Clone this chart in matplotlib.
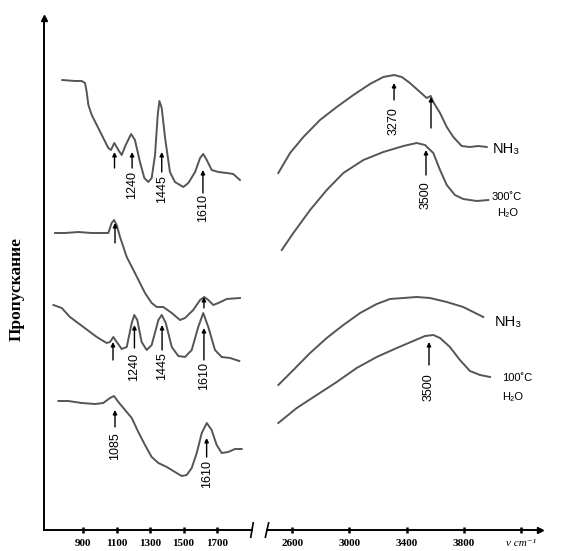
import matplotlib
matplotlib.use('Agg')
import matplotlib.pyplot as plt

# IR transmission spectra, wavenumber (cm-1) vs transmittance (arb. units, stacked)
# low-frequency region
wn_a = [776, 852, 892, 912, 922, 932, 952, 982, 1021, 1051, 1067, 1087, 1111, 1131, 1155, 1187,
        1210, 1240, 1266, 1290, 1310, 1330, 1346, 1356, 1370, 1390, 1419, 1449, 1499, 1529, 1569,
        1599, 1618, 1639, 1668, 1708, 1758, 1797, 1837]
t_a = [450, 449, 449, 447, 438, 425, 415, 405, 392, 382, 380, 387, 380, 375, 385, 396,
       390, 368, 352, 348, 352, 375, 415, 429, 422, 392, 358, 348, 343, 347, 358,
       372, 376, 370, 360, 358, 357, 356, 350]

wn_b = [733, 792, 872, 952, 1051, 1071, 1085, 1101, 1121, 1161, 1210, 1270, 1310, 1340, 1379,
        1430, 1479, 1509, 1558, 1599, 1624, 1648, 1678, 1708, 1758, 1837]
t_b = [297, 297, 298, 297, 297, 307, 310, 305, 293, 273, 257, 237, 227, 223, 223,
       217, 210, 212, 220, 230, 233, 230, 225, 227, 231, 232]

wn_c = [723, 773, 822, 902, 982, 1041, 1061, 1081, 1101, 1131, 1161, 1191, 1206, 1224, 1250,
        1280, 1310, 1350, 1370, 1394, 1430, 1469, 1509, 1549, 1588, 1618, 1648, 1688, 1728,
        1778, 1833]
t_c = [225, 222, 213, 203, 193, 187, 188, 193, 188, 181, 183, 207, 215, 210, 188,
       180, 185, 210, 215, 207, 183, 174, 173, 180, 203, 217, 203, 180, 173,
       172, 169]

wn_d = [753, 812, 892, 972, 1021, 1061, 1085, 1111, 1151, 1191, 1230, 1270, 1310, 1350, 1400,
        1449, 1489, 1519, 1549, 1579, 1609, 1639, 1668, 1698, 1728, 1767, 1807, 1847]
t_d = [129, 129, 127, 126, 127, 132, 134, 128, 120, 112, 98, 85, 73, 67, 63,
       58, 54, 55, 62, 77, 97, 107, 100, 85, 77, 78, 81, 81]

# high-frequency region
wn_e = [2504, 2586, 2679, 2795, 2912, 3028, 3144, 3237, 3312, 3366, 3423, 3493, 3540, 3568,
        3586, 3633, 3680, 3726, 3784, 3842, 3900, 3959]
t_e = [357, 377, 393, 410, 423, 435, 446, 453, 455, 453, 447, 438, 432, 434,
       428, 417, 403, 393, 384, 383, 384, 383]

wn_f = [2528, 2609, 2726, 2842, 2958, 3098, 3237, 3377, 3470, 3528, 3586, 3633, 3680, 3737,
        3795, 3889, 3970]
t_f = [280, 297, 320, 340, 357, 370, 378, 384, 387, 385, 377, 360, 345, 335,
       331, 329, 330]

wn_g = [2504, 2609, 2726, 2842, 2958, 3075, 3191, 3284, 3377, 3470, 3563, 3680, 3795, 3865, 3935]
t_g = [145, 160, 177, 192, 205, 217, 226, 231, 232, 233, 232, 228, 223, 218, 213]

wn_h = [2504, 2633, 2772, 2912, 3051, 3191, 3331, 3446, 3528, 3586, 3633, 3702, 3772, 3842,
        3912, 3982]
t_h = [107, 122, 135, 148, 162, 173, 182, 189, 194, 195, 192, 183, 170, 159, 155, 153]

ticks_low = [900, 1100, 1300, 1500, 1700]
ticks_high = [2600, 3000, 3400, 3800, 4200]
tick_labels_high = ['2600', '3000', '3400', '3800', 'ν cm⁻¹']

# peak marks: (wavenumber, arrow head, arrow tail, label, label centre)
marks_low = [
    (1088, 378, 362, '', None), (1193, 378, 362, '1240', 345), (1370, 378, 358, '1445', 341),
    (1616, 360, 337, '1610', 322),
    (1091, 307, 287, '', None), (1622, 233, 222, '', None),
    (1079, 188, 170, '', None), (1207, 205, 182, '1240', 163), (1372, 205, 180, '1445', 164),
    (1622, 202, 170, '1610', 154),
    (1091, 120, 103, '1085', 84), (1638, 92, 73, '1610', 56),
]
marks_high = [
    (3312, 447, 430, '3270', 409), (3570, 433, 402, '', None),
    (3535, 380, 355, '3500', 335), (3556, 188, 165, '3500', 143),
]

line_color = '#555555'
serif = ['Liberation Serif', 'DejaVu Serif']
sans = ['Liberation Sans', 'DejaVu Sans']

fig = plt.figure(figsize=(5.61, 5.51), dpi=100)
ax1 = fig.add_axes([44 / 561, 21 / 551, 208 / 561, 512 / 551])
ax2 = fig.add_axes([267 / 561, 21 / 551, 273 / 561, 512 / 551])

ax1.set_xlim(667, 1909)
ax2.set_xlim(2425, 4331)
for ax in (ax1, ax2):
    ax.set_ylim(0, 512)
    ax.set_facecolor('none')
    ax.spines['top'].set_visible(False)
    ax.spines['right'].set_visible(False)
    ax.spines['bottom'].set_linewidth(1.4)
    ax.set_yticks([])
    ax.tick_params(axis='x', direction='inout', length=5, width=1.8, pad=4)
ax2.spines['left'].set_visible(False)
ax1.spines['left'].set_linewidth(1.4)

ax1.set_xticks(ticks_low)
ax1.set_xticklabels([str(t) for t in ticks_low], family=serif, fontweight='bold', fontsize=8)
ax2.set_xticks(ticks_high)
ax2.set_xticklabels(tick_labels_high, family=serif, fontweight='bold', fontsize=8)
ax2.get_xticklabels()[-1].set_fontstyle('italic')
ax2.get_xticklabels()[-1].set_fontweight('normal')

# axis arrows
ax1.plot(0, 1, marker='^', color='k', markersize=5, transform=ax1.transAxes, clip_on=False)
ax2.plot(1, 0, marker='>', color='k', markersize=5, transform=ax2.transAxes, clip_on=False)

# axis break marks
for ax, xb in ((ax1, 1.0), (ax2, 0.0)):
    ax.plot([xb - 0.006, xb + 0.006], [-0.014, 0.014], color='k', lw=1.2,
            transform=ax.transAxes, clip_on=False)

for wn, t in ((wn_a, t_a), (wn_b, t_b), (wn_c, t_c), (wn_d, t_d)):
    ax1.plot(wn, t, color=line_color, lw=1.4)
for wn, t in ((wn_e, t_e), (wn_f, t_f), (wn_g, t_g), (wn_h, t_h)):
    ax2.plot(wn, t, color=line_color, lw=1.4)

for ax, marks in ((ax1, marks_low), (ax2, marks_high)):
    for x, head, tail, label, ty in marks:
        ax.annotate('', xy=(x, head), xytext=(x, tail),
                    arrowprops=dict(arrowstyle='-|>', color='k', lw=1.0, mutation_scale=6,
                                    shrinkA=0, shrinkB=0))
        if label:
            ax.text(x, ty, label, rotation=90, ha='center', va='center',
                    fontsize=9, family=sans)

# sample labels
ax2.text(4003, 381, 'NH₃', fontsize=10.5, family=sans, va='center')
ax2.text(3996, 333, '300˚C', fontsize=8, family=sans, va='center')
ax2.text(4030, 317, 'H₂O', fontsize=8, family=sans, va='center')
ax2.text(4017, 208, 'NH₃', fontsize=10.5, family=sans, va='center')
ax2.text(4065, 152, '100˚C', fontsize=8, family=sans, va='center')
ax2.text(4065, 133, 'H₂O', fontsize=8, family=sans, va='center')

ax1.set_ylabel('Пропускание', family=serif, fontweight='bold', fontsize=12.5)
ax1.yaxis.set_label_coords(-0.092, 0.471)

plt.savefig('out.png', dpi=100)
plt.close()
